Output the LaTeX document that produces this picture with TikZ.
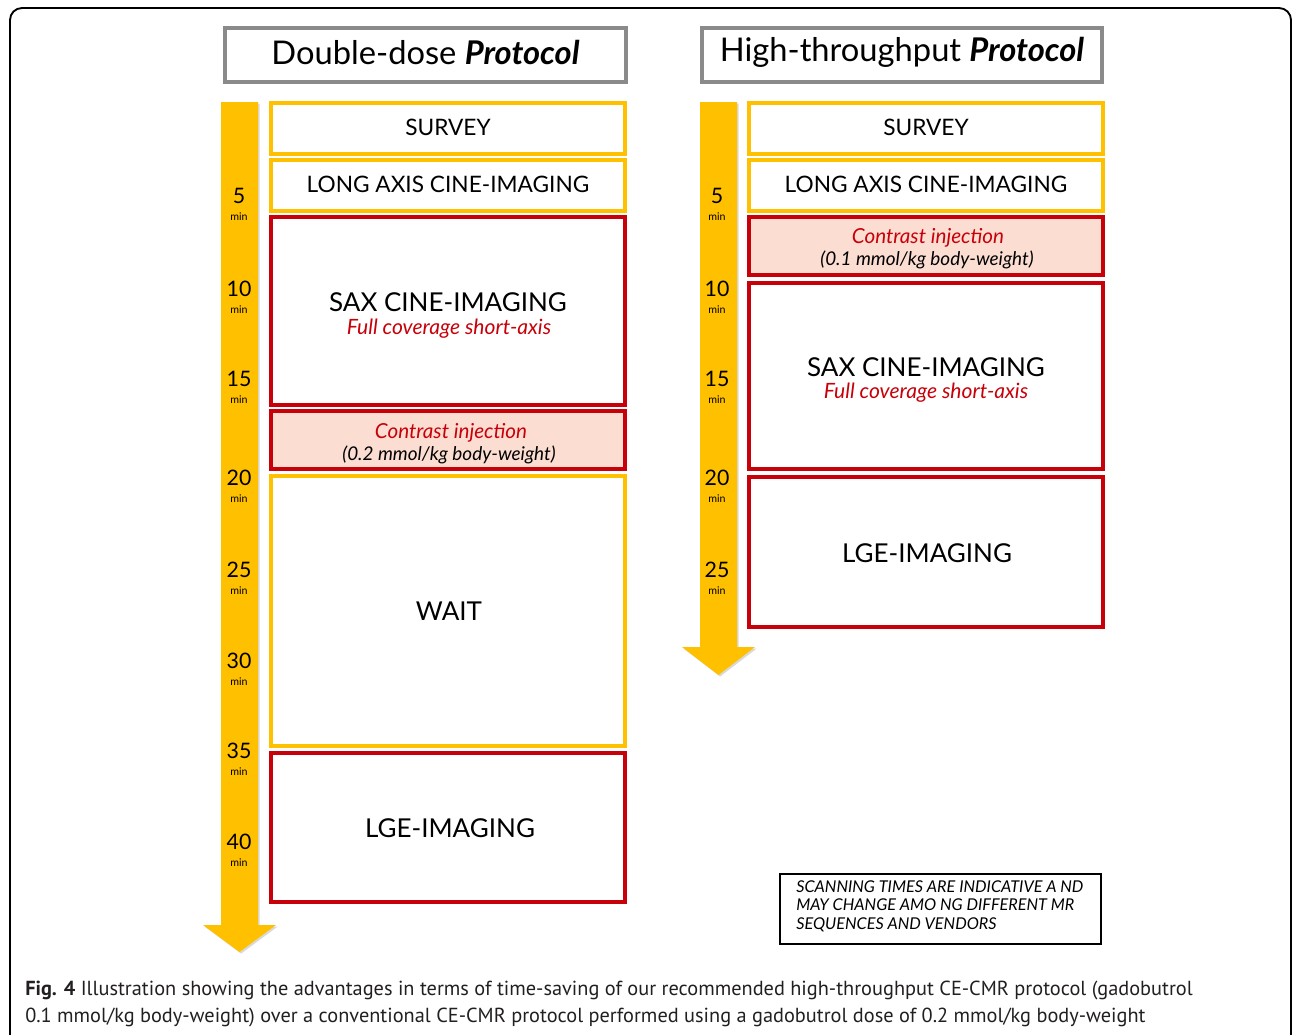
\documentclass[tikz,border=0pt]{standalone}
\usepackage{fontspec}
\setmainfont{Lato}
\newfontfamily\capfont{PT Sans}
\usetikzlibrary{fit,shadows}
\definecolor{ayellow}{HTML}{FFC000}
\definecolor{bred}{HTML}{C8000A}
\definecolor{peach}{HTML}{FBDDD2}
\definecolor{tgray}{HTML}{8A8A8A}
\definecolor{capgray}{HTML}{231F20}
\tikzset{
  shad/.style={drop shadow={shadow xshift=1.2pt,shadow yshift=-1.2pt,opacity=0.25,fill=black!60}},
  titlebox/.style={draw=tgray,line width=2.6pt,fill=white,inner sep=0pt,shad},
  ybox/.style={draw=ayellow,line width=2.8pt,fill=white,inner sep=0pt,align=center,shad},
  rbox/.style={draw=bred,line width=2.8pt,fill=white,inner sep=0pt,align=center,shad},
  cbox/.style={draw=bred,line width=2.8pt,fill=peach,inner sep=0pt,align=center,shad},
  tnum/.style={inner sep=0pt,font=\fontsize{16}{16}\selectfont},
  tmin/.style={inner sep=0pt,font=\fontsize{8}{8}\selectfont},
  arrowshape/.style={fill=ayellow,draw=none,shad},
  bigtxt/.style={inner sep=0pt,font=\fontsize{17}{20}\selectfont},
  medtxt/.style={inner sep=0pt,font=\fontsize{19.5}{22}\selectfont},
  redtxt/.style={inner sep=0pt,text=bred,font=\itshape\fontsize{15.8}{18}\selectfont},
  ctxt/.style={inner sep=0pt,text=bred,font=\itshape\fontsize{15.5}{18}\selectfont},
  dosetxt/.style={inner sep=0pt,font=\itshape\fontsize{14.2}{16}\selectfont},
  titletxt/.style={inner sep=0pt,font=\fontsize{24.5}{28}\selectfont},
}
\begin{document}
\begin{tikzpicture}[x=0.75pt,y=-0.75pt]
\useasboundingbox (0,0) rectangle (1293,1035);
\begin{scope}
\clip (0,0) rectangle (1293,1035);
\draw[line width=1.4pt,rounded corners=9pt] (10,1060) -- (10,8) -- (1291,8) -- (1291,1060);
\end{scope}

% titles
\node[titlebox,fit={(225,28)(626,82)}] (t1) {};
\node[titletxt] at (425.5,52) (t1t) {Double-dose \textbf{\textit{Protocol}}};
\node[titlebox,fit={(702,28)(1102,82)}] (t2) {};
\node[titletxt] at (902,52) (t2t) {High-throughput \textbf{\textit{Protocol}}};

% arrows
\path[arrowshape] (221,102) -- (258,102) -- (258,925) -- (276,925) -- (239.5,952) -- (203,925) -- (221,925) -- cycle;
\path[arrowshape] (700,102) -- (737,102) -- (737,647) -- (755,647) -- (718.5,675) -- (682,647) -- (700,647) -- cycle;

% left column
\node[ybox,fit={(271,103)(625,154)}] (l1) {};
\node[bigtxt] at (448,127) (l1t) {SURVEY};
\node[ybox,fit={(271,160)(625,211)}] (l2) {};
\node[bigtxt] at (448,184) (l2t) {LONG AXIS CINE-IMAGING};
\node[rbox,fit={(271,217)(625,405)}] (l3) {};
\node[medtxt] at (448,302) (l3t) {SAX CINE-IMAGING};
\node[redtxt] at (449,329) (l3s) {Full coverage short-axis};
\node[cbox,fit={(271,411)(625,469)}] (l4) {};
\node[ctxt] at (451,433) (l4t) {Contrast injection};
\node[dosetxt] at (449,455) (l4s) {(0.2 mmol/kg body-weight)};
\node[ybox,fit={(271,476)(625,746)}] (l5) {};
\node[medtxt] at (449,611) (l5t) {WAIT};
\node[rbox,fit={(271,753)(625,902)}] (l6) {};
\node[medtxt] at (450,828) (l6t) {LGE-IMAGING};

% right column
\node[ybox,fit={(749,103)(1103,154)}] (r1) {};
\node[bigtxt] at (926,127) (r1t) {SURVEY};
\node[ybox,fit={(749,160)(1103,211)}] (r2) {};
\node[bigtxt] at (926,184) (r2t) {LONG AXIS CINE-IMAGING};
\node[cbox,fit={(749,217)(1103,275)}] (r3) {};
\node[ctxt] at (928,238) (r3t) {Contrast injection};
\node[dosetxt] at (927,260) (r3s) {(0.1 mmol/kg body-weight)};
\node[rbox,fit={(749,283)(1103,469)}] (r4) {};
\node[medtxt] at (926,367) (r4t) {SAX CINE-IMAGING};
\node[redtxt] at (926,393) (r4s) {Full coverage short-axis};
\node[rbox,fit={(749,477)(1103,627)}] (r5) {};
\node[medtxt] at (927,553) (r5t) {LGE-IMAGING};

% time labels
\foreach \n/\y in {5/196,10/289,15/379,20/478,25/570,30/661,35/751,40/842}{
  \node[tnum] at (239,\y) {\n};
  \node[tmin] at (239,\y+21) {min};
}
\foreach \n/\y in {5/196,10/289,15/379,20/478,25/570}{
  \node[tnum] at (717,\y) {\n};
  \node[tmin] at (717,\y+21) {min};
}

% note
\node[draw=black,line width=1.5pt,inner sep=0pt,fit={(780,874)(1101,944)}] (note) {};
\node[align=left,inner sep=0pt,anchor=west,font=\itshape\fontsize{12.2}{14}\selectfont] at (796,906) (notet)
 {SCANNING TIMES ARE INDICATIVE A ND\\MAY CHANGE AMO NG DIFFERENT MR\\SEQUENCES AND VENDORS};

% caption
\node[anchor=west,inner sep=0pt,text=capgray,font=\capfont\fontsize{15.25}{15}\selectfont] at (25,990) (cap1)
 {\textbf{Fig. 4} Illustration showing the advantages in terms of time-saving of our recommended high-throughput CE-CMR protocol (gadobutrol};
\node[anchor=west,inner sep=0pt,text=capgray,font=\capfont\fontsize{15.25}{15}\selectfont] at (25,1017) (cap2)
 {0.1 mmol/kg body-weight) over a conventional CE-CMR protocol performed using a gadobutrol dose of 0.2 mmol/kg body-weight};
\end{tikzpicture}
\end{document}
